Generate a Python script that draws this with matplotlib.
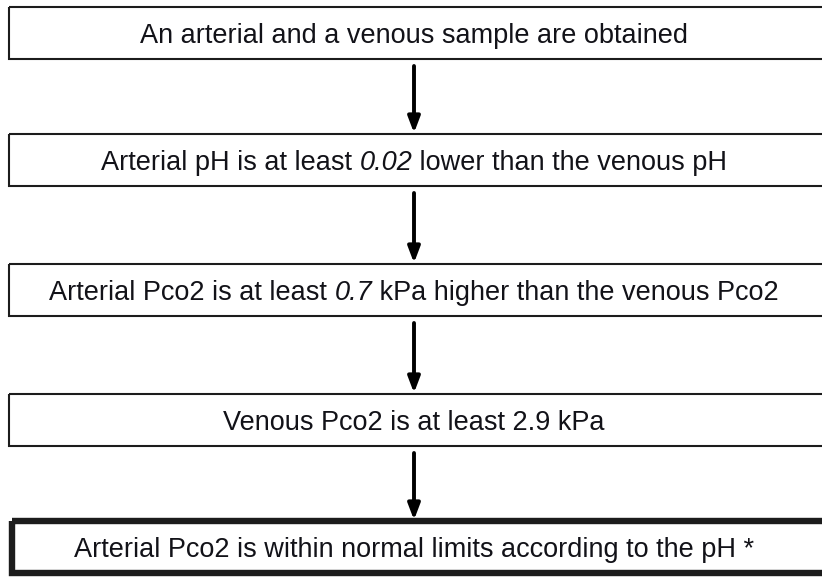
import matplotlib as mpl
mpl.use('Agg')
import matplotlib.pyplot as plt
from matplotlib.patches import Rectangle

plt.rcParams['font.family'] = ['Liberation Sans', 'DejaVu Sans']

# flowchart steps, top to bottom: list of (text, italic) pieces
steps = [
    [('An arterial and a venous sample are obtained', False)],
    [('Arterial pH is at least ', False), ('0.02', True),
     (' lower than the venous pH', False)],
    [('Arterial Pco2 is at least ', False), ('0.7', True),
     (' kPa higher than the venous Pco2', False)],
    [('Venous Pco2 is at least 2.9 kPa', False)],
    [('Arterial Pco2 is within normal limits according to the pH *', False)],
]
box_top = [7, 134, 264, 394, 521]
box_h = 52
box_lw = [1.5, 1.5, 1.5, 1.5, 4.6]
box_x = [9, 9, 9, 9, 11.5]

FS = 19.5
TXT = '#121218'

fig = plt.figure(figsize=(8.22, 5.77), dpi=100)
ax = fig.add_axes([0, 0, 1, 1])
ax.set_xlim(0, 822)
ax.set_ylim(577, 0)
ax.axis('off')
renderer = fig.canvas.get_renderer()


def text_width(s, italic):
    """width in px (= data units), spaces included"""
    style = 'italic' if italic else 'normal'
    t = ax.text(0, 0, 'x' + s + 'x', fontsize=FS, style=style)
    w = t.get_window_extent(renderer).width
    t.remove()
    t = ax.text(0, 0, 'xx', fontsize=FS, style=style)
    w -= t.get_window_extent(renderer).width
    t.remove()
    return w


x_mid = 414

for i, pieces in enumerate(steps):
    y0 = box_top[i]
    ax.add_patch(Rectangle((box_x[i], y0), 900, box_h, fill=False,
                           edgecolor='#1c1c1c', linewidth=box_lw[i]))

    widths = [text_width(s, it) for s, it in pieces]
    x = x_mid - sum(widths) / 2
    base = y0 + box_h / 2 + 10
    for (s, it), w in zip(pieces, widths):
        ax.text(x, base, s, ha='left', va='baseline', fontsize=FS,
                color=TXT, style='italic' if it else 'normal')
        x += w

    # arrow down to next box
    if i < len(steps) - 1:
        ax.annotate('', xy=(x_mid, box_top[i + 1] - 1),
                    xytext=(x_mid, y0 + box_h + 7),
                    arrowprops=dict(arrowstyle='-|>,head_width=0.36,head_length=0.95',
                                    color='black', lw=2.8,
                                    shrinkA=0, shrinkB=0))

fig.savefig('out.png', dpi=100)
